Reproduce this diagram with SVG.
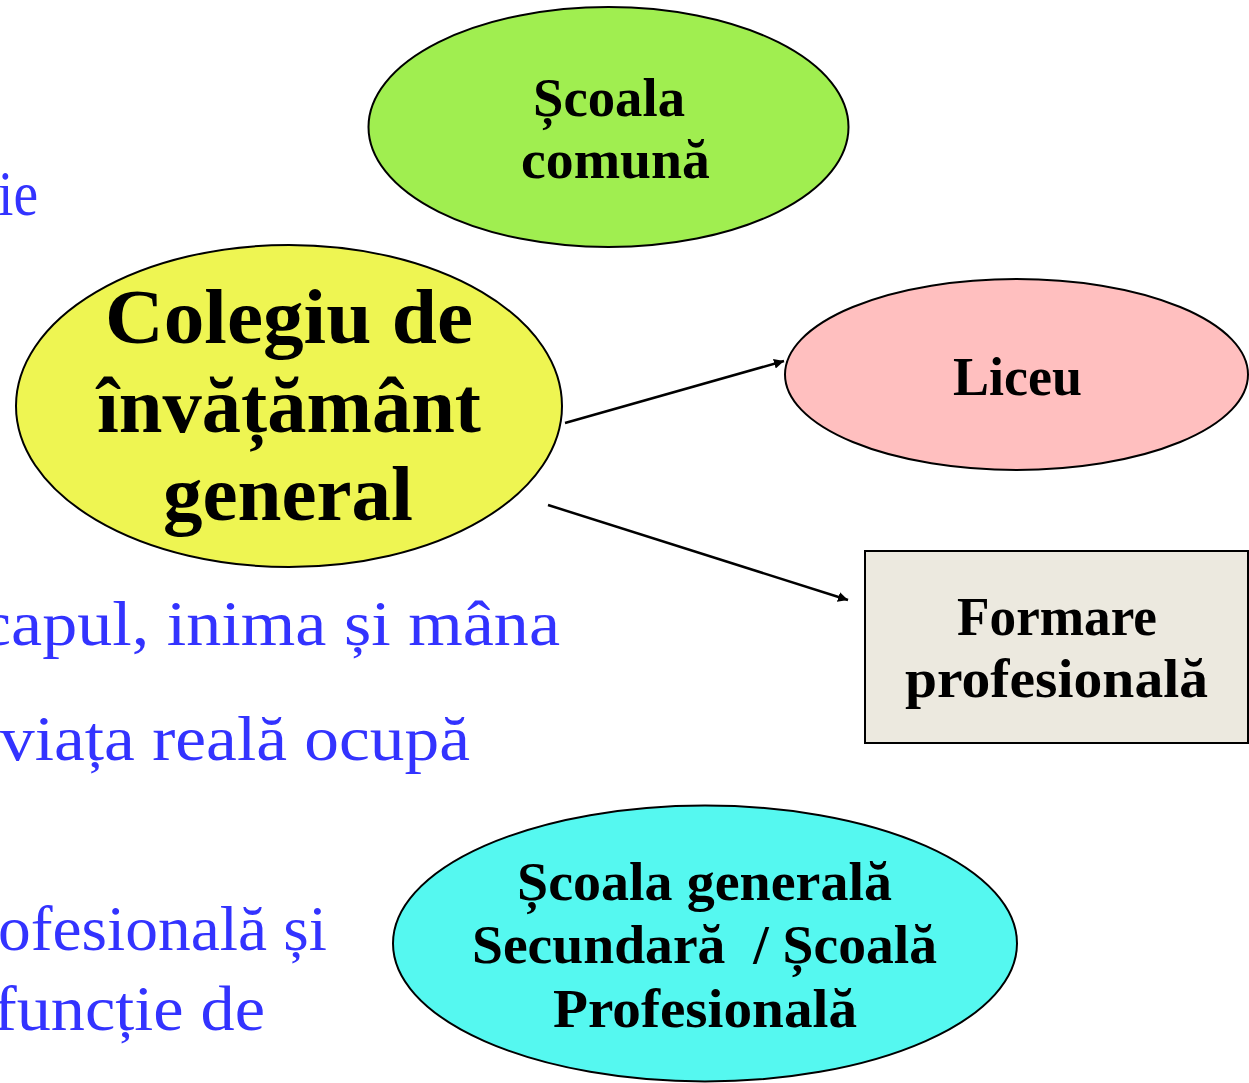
<svg xmlns="http://www.w3.org/2000/svg" width="1249" height="1083" viewBox="0 0 1249 1083">
<style>
.node{stroke:#000;stroke-width:2}
.lbl{font-family:"Liberation Serif","DejaVu Serif",serif;font-weight:bold;fill:#000}
.bt{font-family:"Liberation Serif","DejaVu Serif",serif;fill:#3333FF;font-size:64px}
.conn{stroke:#000;stroke-width:2.5;fill:none}
</style>
<defs>
<marker id="ah" markerUnits="userSpaceOnUse" markerWidth="12" markerHeight="10" refX="10" refY="5" orient="auto">
<path d="M0,0 L10,5 L0,10 Z" fill="#000"/>
</marker>
</defs>
<rect width="1249" height="1083" fill="#fff"/>
<g id="background-text">
<text class="bt" x="-2" y="215" textLength="40" lengthAdjust="spacingAndGlyphs">ie</text>
<text class="bt" x="-20" y="645" textLength="580" lengthAdjust="spacingAndGlyphs">capul, inima și mâna</text>
<text class="bt" x="0" y="760" textLength="470" lengthAdjust="spacingAndGlyphs">viața reală ocupă</text>
<text class="bt" x="-2" y="950" textLength="329" lengthAdjust="spacingAndGlyphs">ofesională și</text>
<text class="bt" x="-6" y="1030" textLength="271" lengthAdjust="spacingAndGlyphs">funcție de</text>
</g>
<g id="connectors">
<line class="conn" x1="565" y1="423" x2="784" y2="361" marker-end="url(#ah)"/>
<line class="conn" x1="548" y1="505" x2="848" y2="600" marker-end="url(#ah)"/>
</g>
<g id="node-scoala-comuna">
<ellipse class="node" cx="608.5" cy="127" rx="240" ry="120" fill="#A0EE50"/>
<text class="lbl" font-size="54" x="533" y="116" textLength="152" lengthAdjust="spacingAndGlyphs">Școala</text>
<text class="lbl" font-size="54" x="521" y="178" textLength="189" lengthAdjust="spacingAndGlyphs">comună</text>
</g>
<g id="node-colegiu">
<ellipse class="node" cx="289" cy="406" rx="273" ry="161" fill="#EEF552"/>
<text class="lbl" font-size="78" x="105" y="343" textLength="368" lengthAdjust="spacingAndGlyphs">Colegiu de</text>
<text class="lbl" font-size="78" x="97" y="432" textLength="384" lengthAdjust="spacingAndGlyphs">învățământ</text>
<text class="lbl" font-size="78" x="163" y="520" textLength="250" lengthAdjust="spacingAndGlyphs">general</text>
</g>
<g id="node-liceu">
<ellipse class="node" cx="1016.5" cy="374.5" rx="231.5" ry="95.5" fill="#FFBFBF"/>
<text class="lbl" font-size="54" x="953" y="395" textLength="129" lengthAdjust="spacingAndGlyphs">Liceu</text>
</g>
<g id="node-formare">
<rect class="node" x="865" y="551" width="383" height="192" fill="#ECE9DF"/>
<text class="lbl" font-size="54" x="957" y="635" textLength="200" lengthAdjust="spacingAndGlyphs">Formare</text>
<text class="lbl" font-size="54" x="905" y="697" textLength="303" lengthAdjust="spacingAndGlyphs">profesională</text>
</g>
<g id="node-scoala-generala">
<ellipse class="node" cx="705" cy="943.5" rx="312" ry="138" fill="#55F8F0"/>
<text class="lbl" font-size="54" x="517" y="900" textLength="375" lengthAdjust="spacingAndGlyphs">Școala generală</text>
<text class="lbl" font-size="54" x="472" y="963" textLength="465" lengthAdjust="spacingAndGlyphs" xml:space="preserve">Secundară  / Școală</text>
<text class="lbl" font-size="54" x="553" y="1027" textLength="304" lengthAdjust="spacingAndGlyphs">Profesională</text>
</g>
</svg>
